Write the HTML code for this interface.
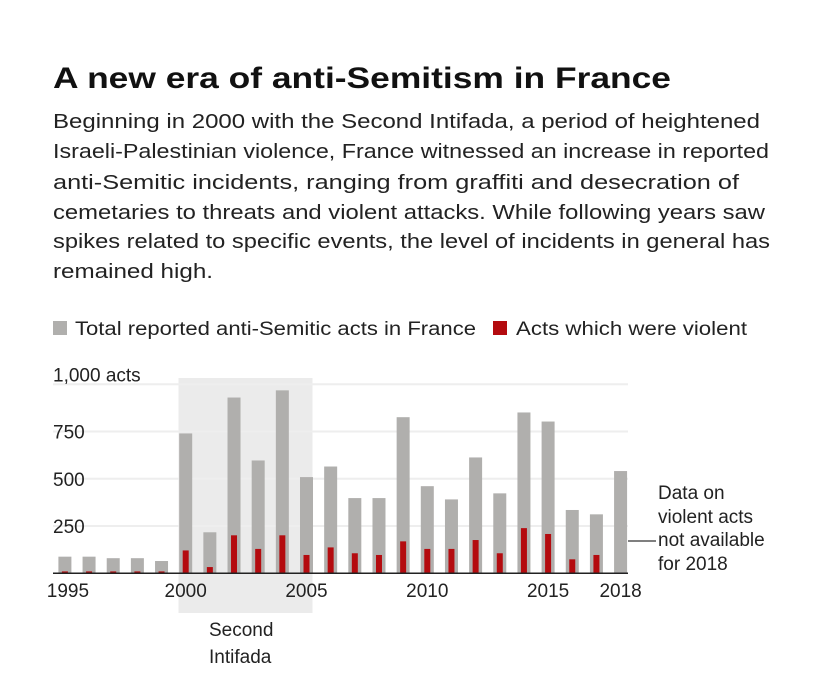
<!DOCTYPE html>
<html><head><meta charset="utf-8"><style>
html,body{margin:0;padding:0;background:#fff;}
svg{display:block;font-family:"Liberation Sans",sans-serif;}
</style></head><body>
<svg id="chart" width="832" height="683" viewBox="0 0 832 683">
<text x="53" y="88" font-size="30" font-weight="bold" fill="#111" textLength="618" lengthAdjust="spacingAndGlyphs">A new era of anti-Semitism in France</text>
<g font-size="20" fill="#222">
<text x="53" y="128" textLength="707" lengthAdjust="spacingAndGlyphs">Beginning in 2000 with the Second Intifada, a period of heightened</text>
<text x="53" y="158" textLength="716" lengthAdjust="spacingAndGlyphs">Israeli-Palestinian violence, France witnessed an increase in reported</text>
<text x="53" y="189" textLength="686" lengthAdjust="spacingAndGlyphs">anti-Semitic incidents, ranging from graffiti and desecration of</text>
<text x="53" y="219" textLength="712" lengthAdjust="spacingAndGlyphs">cemetaries to threats and violent attacks. While following years saw</text>
<text x="53" y="248" textLength="717" lengthAdjust="spacingAndGlyphs">spikes related to specific events, the level of incidents in general has</text>
<text x="53" y="278" textLength="160" lengthAdjust="spacingAndGlyphs">remained high.</text>
</g>
<g font-size="19" fill="#222">
<rect x="53" y="321" width="14" height="14" fill="#b0afad"/>
<text x="75" y="335" textLength="401" lengthAdjust="spacingAndGlyphs">Total reported anti-Semitic acts in France</text>
<rect x="493" y="321" width="14" height="14" fill="#b40b0f"/>
<text x="516" y="335" textLength="231" lengthAdjust="spacingAndGlyphs">Acts which were violent</text>
</g>
<rect x="178.5" y="378" width="134" height="235" fill="#ebebeb"/>
<g id="grid"></g>
<g id="bars"></g>
<g id="xlabels" font-size="19" fill="#222" text-anchor="middle"></g>
<text x="209" y="636" font-size="19" fill="#222">Second</text>
<text x="209" y="663" font-size="19" fill="#222">Intifada</text>
<g font-size="19" fill="#222">
<line x1="628" y1="541" x2="656" y2="541" stroke="#333" stroke-width="1.3"/>
<text x="658" y="499">Data on</text>
<text x="658" y="523">violent acts</text>
<text x="658" y="546">not available</text>
<text x="658" y="570">for 2018</text>
</g>
</svg>
<script>
const years=[1995,1996,1997,1998,1999,2000,2001,2002,2003,2004,2005,2006,2007,2008,2009,2010,2011,2012,2013,2014,2015,2016,2017,2018];
const totalActs=[88,88,80,80,65,740,217,930,597,968,509,565,398,398,826,461,391,613,423,851,803,335,312,541];
const violentActs=[10,10,10,10,10,121,33,201,129,201,97,137,106,97,169,129,129,176,106,239,208,74,97,null];
const yTicks=[250,500,750,1000];
const yTickLabels=["250","500","750","1,000 acts"];
const xTickYears=[1995,2000,2005,2010,2015,2018];
const NS="http://www.w3.org/2000/svg";
const baseY=573.3, pxPer=189/1000, x0=64.9, step=24.16;
function y(v){return baseY-v*pxPer;}
function x(i){return x0+i*step;}
function mk(t,a,p){const e=document.createElementNS(NS,t);for(const k in a)e.setAttribute(k,a[k]);p.appendChild(e);return e;}
const grid=document.getElementById('grid'),bars=document.getElementById('bars'),xl=document.getElementById('xlabels');
yTicks.forEach((t,i)=>{
 const l=mk('line',{x1:53,x2:628,y1:y(t),y2:y(t),stroke:'#eeeeee','stroke-width':2},grid);
 
 
 const tx=mk('text',{x:53,y:y(t)+(i==3?-3:7),'font-size':19,fill:'#222'},grid);
 tx.textContent=yTickLabels[i];
 
 
});
years.forEach((yr,i)=>{
 const r=mk('rect',{x:x(i)-6.5,y:y(totalActs[i]),width:13,height:totalActs[i]*pxPer,fill:'#b0afad'},bars);
 
 
 if(violentActs[i]!=null){
  const v=mk('rect',{x:x(i)-3,y:y(violentActs[i]),width:6,height:violentActs[i]*pxPer,fill:'#b40b0f'},bars);
  
  
 }
});
const ax=mk('line',{x1:53,x2:628,y1:baseY,y2:baseY,stroke:'#222','stroke-width':1.5},bars);


xTickYears.forEach(yr=>{
 const i=years.indexOf(yr);
 const t=mk('text',{x:x(i)+(yr==1995?3:0),y:597},xl);
 t.textContent=yr;
 
 
});
</script>
</body></html>
